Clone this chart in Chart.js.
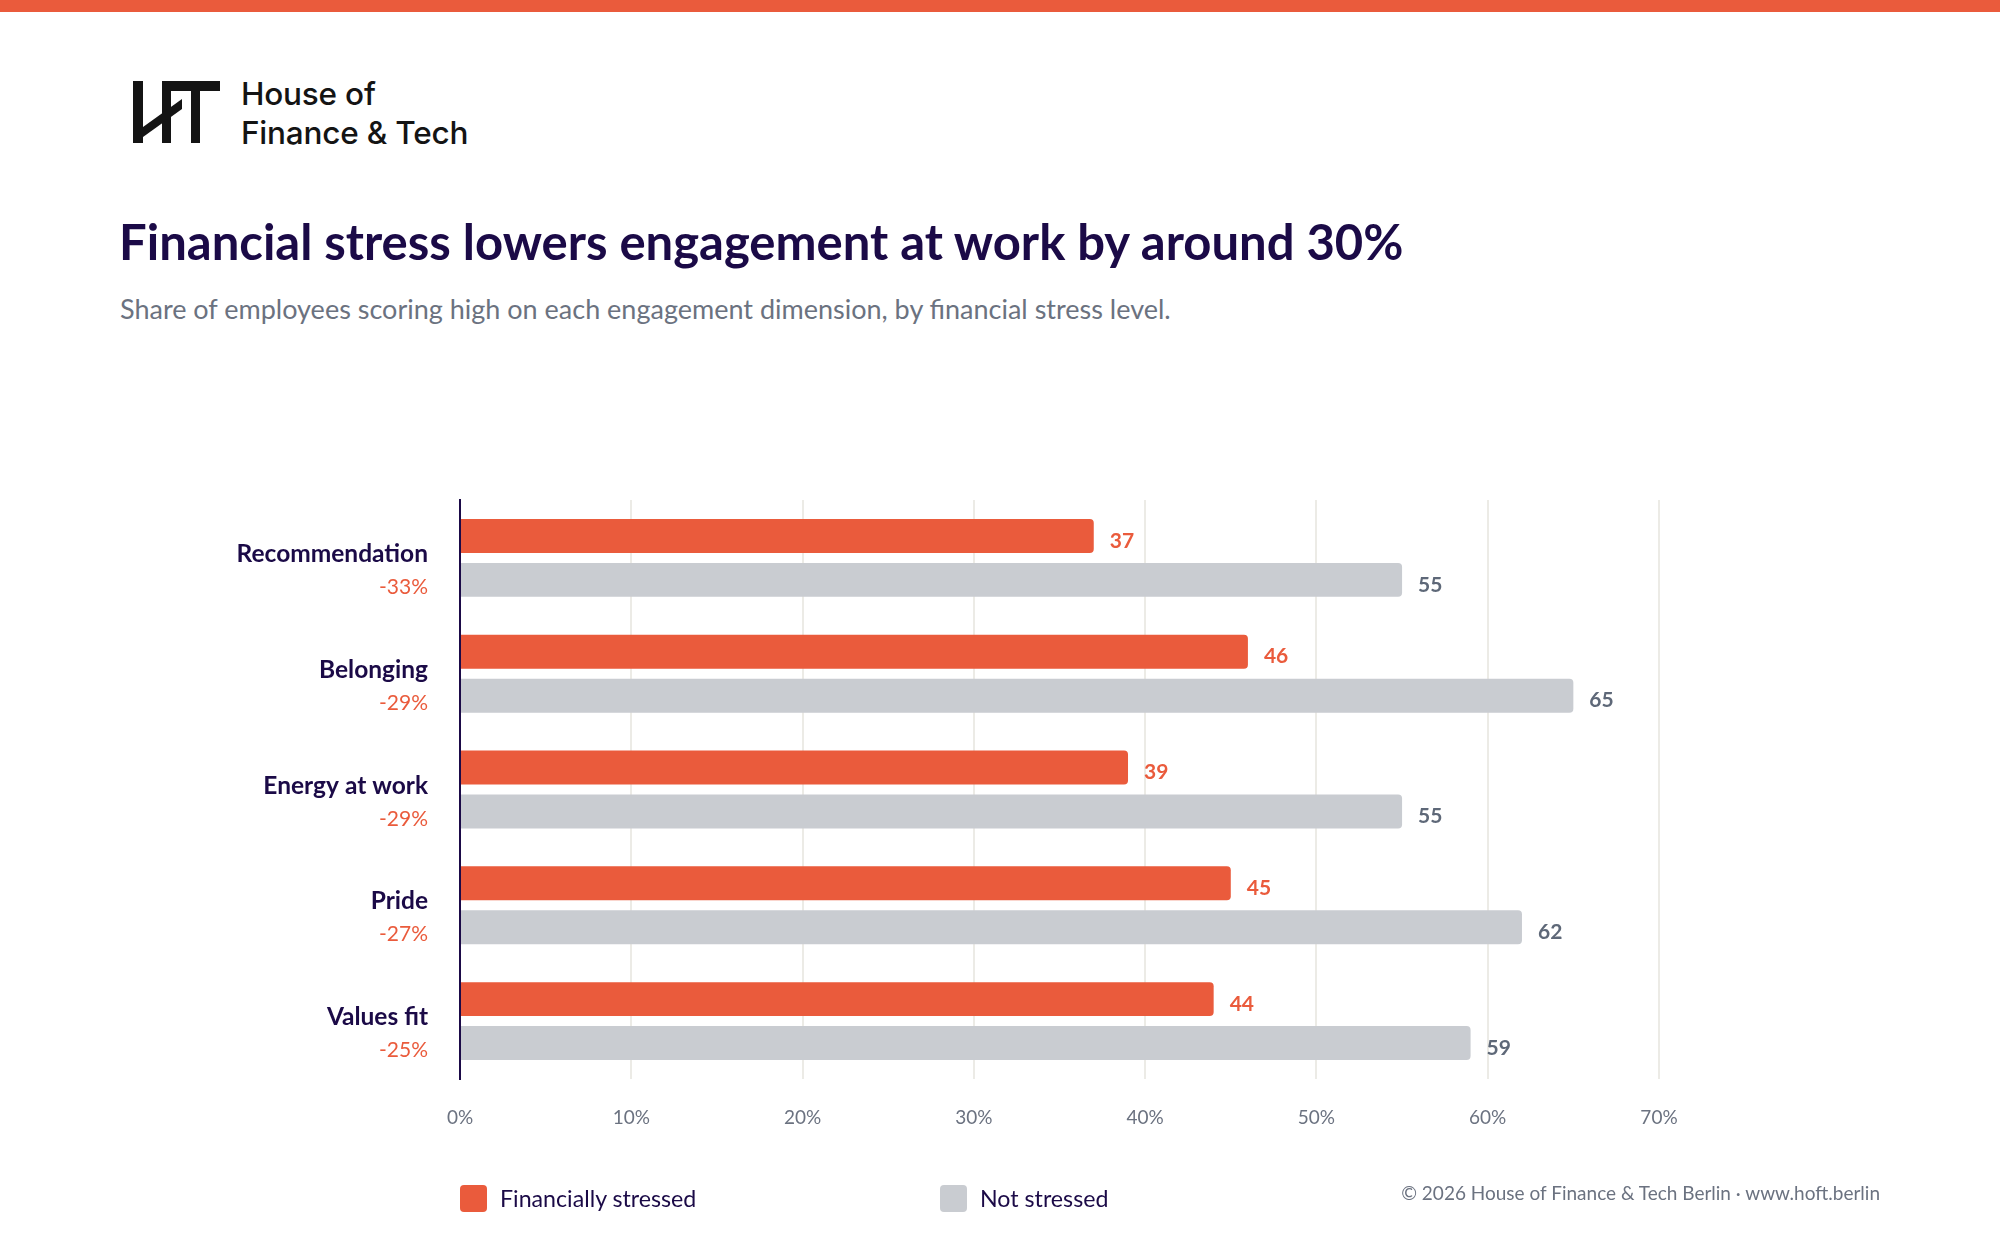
<!DOCTYPE html>
<html>
<head>
<meta charset="utf-8">
<script src="https://cdn.jsdelivr.net/npm/chart.js@4"></script>
<style>
  html, body { margin:0; padding:0; background:#fff; }
  body { width:2000px; height:1240px; position:relative; overflow:hidden; font-family: Lato, "Noto Sans", sans-serif; }
  .topbar { position:absolute; left:0; top:0; width:2000px; height:12px; background:#EA5B3C; }
  .logo { position:absolute; left:133px; top:81px; }
  .logotext { position:absolute; left:241px; top:74px; font-family: Inter, sans-serif; font-weight:500; font-size:31.5px; line-height:39px; color:#141414; letter-spacing:-0.2px; }
  .title { position:absolute; left:119px; top:212px; font-weight:700; font-size:49px; color:#1B0A47; white-space:nowrap; }
  .subtitle { position:absolute; left:120px; top:292px; font-size:27px; color:#6B7280; white-space:nowrap; }
  #wrap { position:absolute; left:0; top:0; width:2000px; height:1240px; }
  .legend { position:absolute; top:1184px; left:0; }
  .legend .item { position:absolute; display:flex; align-items:center; white-space:nowrap; font-size:23.2px; color:#1B0A47; }
  .legend .sw { width:27px; height:27px; border-radius:4px; margin-right:13px; }
  .footer { position:absolute; right:120px; top:1181px; font-size:19px; color:#6B7280; white-space:nowrap; }
</style>
</head>
<body>
<div class="topbar"></div>
<svg class="logo" width="90" height="64" viewBox="0 0 90 64">
  <rect x="0" y="0" width="10" height="62" fill="#141414"/>
  <rect x="29" y="0" width="9" height="62" fill="#141414"/>
  <rect x="29" y="0" width="58" height="10" fill="#141414"/>
  <rect x="58" y="0" width="9" height="62" fill="#141414"/>
  <polygon points="10,46 49,18 49,28 10,56" fill="#141414"/>
</svg>
<div class="logotext">House of<br>Finance &amp; Tech</div>
<div class="title">Financial stress lowers engagement at work by around 30%</div>
<div class="subtitle">Share of employees scoring high on each engagement dimension, by financial stress level.</div>
<div id="wrap"><canvas id="c" width="2000" height="1240"></canvas></div>
<div class="legend" id="legend"></div>
<div class="footer">© 2026 House of Finance &amp; Tech Berlin · www.hoft.berlin</div>
<script>
const categories = ['Recommendation', 'Belonging', 'Energy at work', 'Pride', 'Values fit'];
const stressed = [37, 46, 39, 45, 44];
const notStressed = [55, 65, 55, 62, 59];
const gapLabels = ['-33%', '-29%', '-29%', '-27%', '-25%'];
const xTickValues = [0, 10, 20, 30, 40, 50, 60, 70];
const seriesNames = ['Financially stressed', 'Not stressed'];

const RED = '#EA5B3C', GREY = '#C9CCD1', NAVY = '#1B0A47', SLATE = '#6B7280';

const categoryLabels = {
  id: 'categoryLabels',
  afterDraw(chart) {
    const ctx = chart.ctx, y = chart.scales.y;
    ctx.save();
    ctx.textAlign = 'right';
    ctx.textBaseline = 'alphabetic';
    categories.forEach((c, i) => {
      const py = y.getPixelForValue(i);
      ctx.font = '700 24.5px Lato';
      ctx.fillStyle = NAVY;
      ctx.fillText(c, 428, py + 4);
      ctx.font = '400 21px Lato';
      ctx.fillStyle = RED;
      ctx.fillText(gapLabels[i], 428, py + 36);
    });
    ctx.restore();
  }
};

const valueLabels = {
  id: 'valueLabels',
  afterDatasetsDraw(chart) {
    const ctx = chart.ctx;
    ctx.save();
    ctx.font = '700 21px Lato';
    ctx.textAlign = 'left';
    ctx.textBaseline = 'middle';
    chart.data.datasets.forEach((ds, di) => {
      const meta = chart.getDatasetMeta(di);
      ctx.fillStyle = di === 0 ? RED : '#5E6878';
      meta.data.forEach((bar, i) => {
        ctx.fillText(String(ds.data[i]), bar.x + 16, bar.y + 5);
      });
    });
    ctx.restore();
  }
};

const chart = new Chart(document.getElementById('c'), {
  type: 'bar',
  data: {
    labels: categories,
    datasets: [
      { label: seriesNames[0], data: stressed, backgroundColor: RED, borderRadius: 4, categoryPercentage: 0.759, barPercentage: 0.773 },
      { label: seriesNames[1], data: notStressed, backgroundColor: GREY, borderRadius: 4, categoryPercentage: 0.759, barPercentage: 0.773 }
    ]
  },
  options: {
    indexAxis: 'y',
    responsive: false,
    animation: false,
    layout: { padding: { top: 500, left: 460, right: 341, bottom: 101 } },
    plugins: { legend: { display: false }, tooltip: { enabled: false } },
    scales: {
      x: {
        min: 0, max: 70,
        afterBuildTicks(scale) { scale.ticks = xTickValues.map(v => ({ value: v })); },
        afterFit(scale) { scale.height = 60; },
        grid: { color: '#ECEBE6', lineWidth: 2, drawTicks: false },
        border: { display: false },
        ticks: { padding: 27, color: SLATE, font: { family: 'Lato', size: 19 }, callback: v => v + '%' }
      },
      y: {
        afterFit(scale) { scale.width = 0; },
        grid: { display: false, drawTicks: false },
        border: { display: true, color: NAVY, width: 2 },
        ticks: { display: false }
      }
    }
  },
  plugins: [categoryLabels, valueLabels]
});

// legend built from the chart's datasets
const legendEl = document.getElementById('legend');
const legendX = [460, 940];
chart.data.datasets.forEach((ds, i) => {
  const item = document.createElement('div');
  item.className = 'item';
  item.style.left = legendX[i] + 'px';
  item.innerHTML = '<span class="sw" style="background:' + ds.backgroundColor + '"></span><span>' + ds.label + '</span>';
  legendEl.appendChild(item);
});
</script>
</body>
</html>
